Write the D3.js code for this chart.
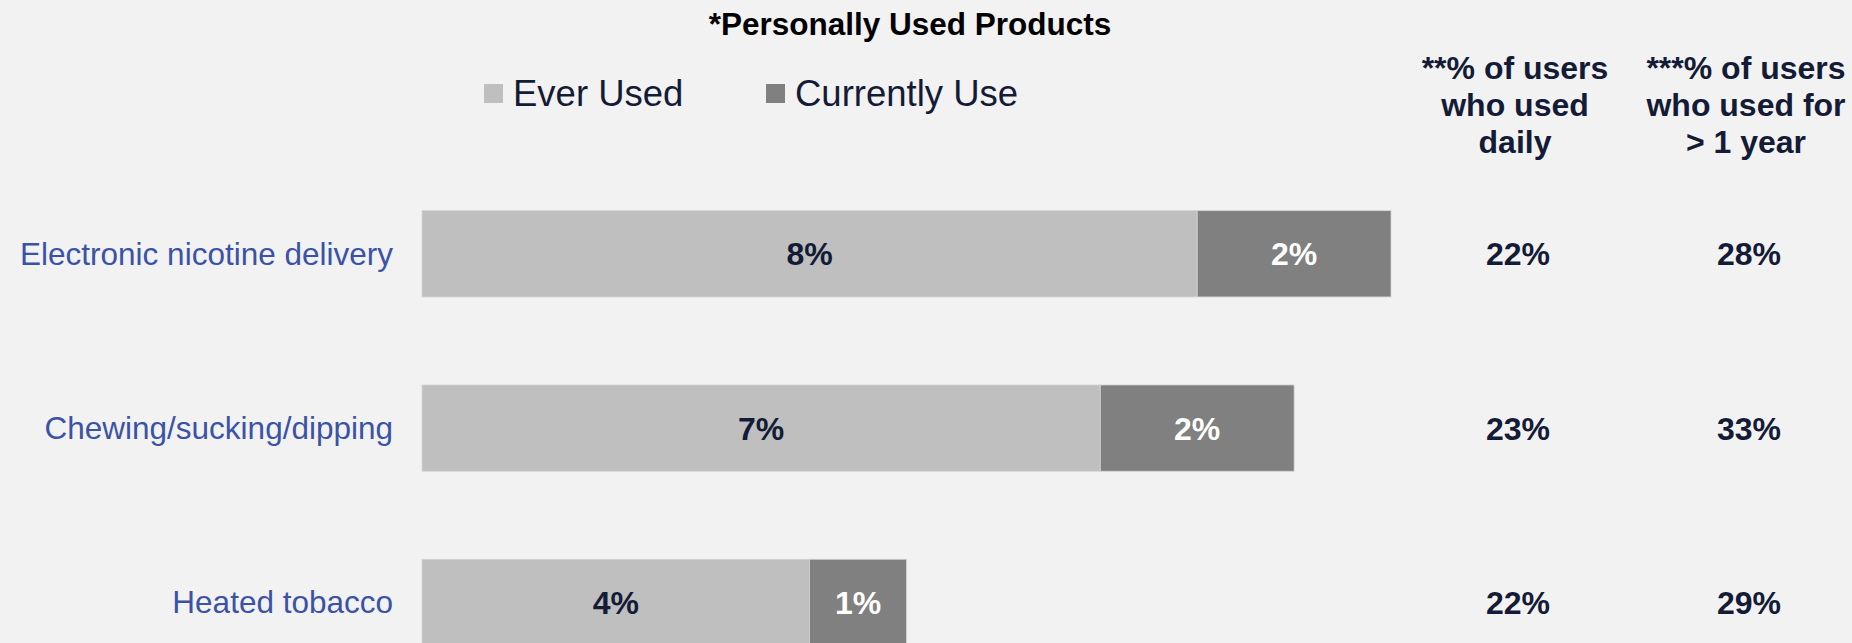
<!DOCTYPE html>
<html>
<head>
<meta charset="utf-8">
<script src="https://cdn.jsdelivr.net/npm/d3@7"></script>
<style>
  html, body { margin: 0; padding: 0; background: #f2f2f2; }
  svg { display: block; font-family: "Liberation Sans", Arial, sans-serif; }
</style>
</head>
<body>
<svg id="chart" width="1852" height="643"></svg>
<script>
// Product categories and survey shares (percent)
const categories = ["Electronic nicotine delivery", "Chewing/sucking/dipping", "Heated tobacco"];
const everUsed = [8, 7, 4];
const currentlyUse = [2, 2, 1];
const usedDaily = [22, 23, 22];
const usedOverYear = [28, 33, 29];

const seriesNames = ["Ever Used", "Currently Use"];
const colHeaders = [
  ["**% of users", "who used", "daily"],
  ["***% of users", "who used for", "> 1 year"]
];

const W = 1852, H = 643;
const svg = d3.select("#chart");
svg.append("rect").attr("width", W).attr("height", H).attr("fill", "#f2f2f2");

const navy = "#141b36";
const blue = "#3b52a6";
const colors = d3.scaleOrdinal().domain(seriesNames).range(["#bfbfbf", "#808080"]);

const x = d3.scaleLinear().domain([0, 14]).range([422, 422 + 14 * 96.9]);
const y = d3.scaleBand().domain(categories).range([167.1, 689.1])
  .paddingInner(0.505).paddingOuter(0.25);

const rows = categories.map((c, i) => ({
  cat: c, ever: everUsed[i], cur: currentlyUse[i],
  daily: usedDaily[i], year: usedOverYear[i]
}));
const stack = d3.stack().keys(["ever", "cur"])(rows);
const fmt = v => d3.format(".0f")(v) + "%";

// Title
svg.append("text").attr("x", 910).attr("y", 35).attr("text-anchor", "middle")
  .attr("font-size", 31.5).attr("font-weight", "bold").attr("fill", "#000")
  .text("*Personally Used Products");

// Legend
const legendX = [484, 766];
seriesNames.forEach((s, i) => {
  const g = svg.append("g").attr("transform", `translate(${legendX[i]},84)`);
  g.append("rect").attr("width", 19).attr("height", 19).attr("fill", colors(s));
  g.append("text").attr("x", 29).attr("y", 22).attr("font-size", 36.5)
    .attr("fill", navy).text(s);
});

// Right-hand column headers
const colX = [1515, 1746];
colHeaders.forEach((lines, j) => {
  const t = svg.append("text").attr("x", colX[j]).attr("y", 79)
    .attr("text-anchor", "middle").attr("font-size", 32).attr("font-weight", "bold")
    .attr("fill", navy);
  lines.forEach((ln, k) => {
    t.append("tspan").attr("x", colX[j]).attr("y", 79 + k * 37).text(ln);
  });
});

// Stacked bars
stack.forEach((layer, li) => {
  const g = svg.append("g");
  g.selectAll("rect").data(layer).join("rect")
    .attr("x", d => x(d[0]))
    .attr("y", d => y(d.data.cat))
    .attr("width", d => x(d[1]) - x(d[0]))
    .attr("height", y.bandwidth())
    .attr("fill", colors(seriesNames[li]))
    .attr("stroke", "#d4d4d4").attr("stroke-width", 0.8);
  g.selectAll("text").data(layer).join("text")
    .attr("x", d => (x(d[0]) + x(d[1])) / 2)
    .attr("y", d => y(d.data.cat) + y.bandwidth() / 2 + 11.5)
    .attr("text-anchor", "middle").attr("font-size", 32).attr("font-weight", "bold")
    .attr("fill", li === 0 ? navy : "#ffffff")
    .text(d => fmt(d[1] - d[0]));
});

// Category labels
svg.append("g").selectAll("text").data(rows).join("text")
  .attr("x", 393)
  .attr("y", d => y(d.cat) + y.bandwidth() / 2 + 11)
  .attr("text-anchor", "end").attr("font-size", 31.5).attr("fill", blue)
  .text(d => d.cat);

// Right-hand value columns
[["daily", 0], ["year", 1]].forEach(([key, j]) => {
  svg.append("g").selectAll("text").data(rows).join("text")
    .attr("x", colX[j] + 3)
    .attr("y", d => y(d.cat) + y.bandwidth() / 2 + 11.5)
    .attr("text-anchor", "middle").attr("font-size", 32).attr("font-weight", "bold")
    .attr("fill", navy)
    .text(d => fmt(d[key]));
});
</script>
</body>
</html>
